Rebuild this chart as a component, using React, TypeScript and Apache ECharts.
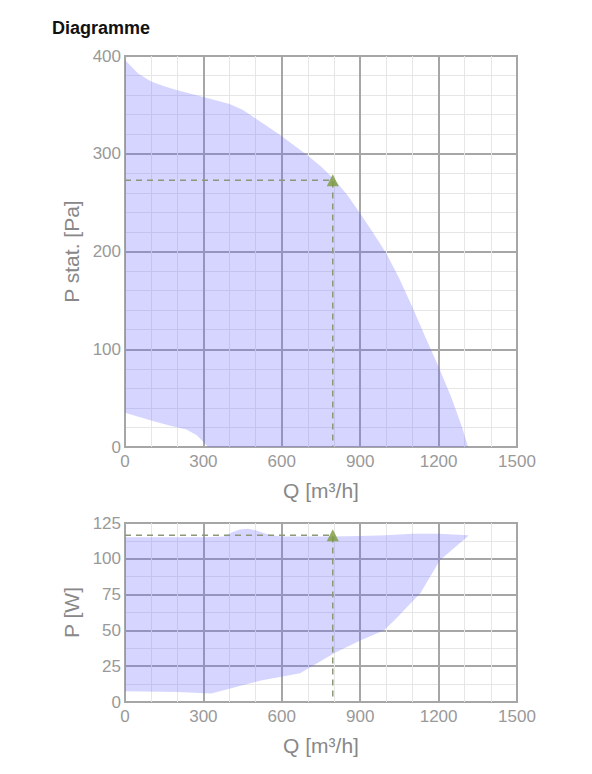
import React, { useEffect, useRef } from "react";
import * as echarts from "echarts";

// Top chart: static pressure envelope
const pUpperQ = [0, 50, 100, 150, 200, 300, 400, 450, 500, 550, 600, 650, 700, 750, 800, 850, 900, 950, 1000, 1050, 1100, 1150, 1200, 1250, 1290, 1313];
const pUpperP = [396, 382, 374, 369, 365, 358, 351, 345, 336, 327, 318, 308, 298, 287, 274, 258, 239, 219, 198, 172, 143, 112, 82, 50, 20, 0];
const pLowerQ = [318, 300, 275, 235, 170, 100, 0];
const pLowerP = [0, 5, 12, 18, 22, 27, 35];

// Bottom chart: power envelope
const wUpperQ = [0, 300, 380, 410, 440, 470, 500, 530, 560, 600, 700, 800, 900, 1000, 1100, 1200, 1313];
const wUpperP = [115, 115, 115.5, 118.5, 120.5, 121, 120, 118, 116.5, 115.5, 115.5, 115.5, 116, 116.5, 117.5, 117.5, 116.5];
const wLowerQ = [1313, 1205, 1130, 1030, 990, 900, 800, 670, 520, 330, 200, 0];
const wLowerP = [116, 99, 76, 57, 50, 43, 34, 20, 15, 6, 7, 7.5];

// Operating point
const opQ = 795;
const opP = 273;
const opW = 116.5;

const xTicks = { min: 0, max: 1500, interval: 300 };

const FONT = "'Liberation Sans', Arial, sans-serif";
const FILL = "rgba(100,100,255,0.27)";
const MAJOR = "#a6a6a6";
const MINOR = "#e6e6e6";
const DASH = "#8c9878";
const MARK = "#7a9a3a";
const LABEL = "#999";
const NAME = "#888";

function envelope(uq: number[], up: number[], lq: number[], lp: number[]) {
  return (params: any, api: any) => {
    const pts = uq.map((q, i) => api.coord([q, up[i]])).concat(lq.map((q, i) => api.coord([q, lp[i]])));
    return { type: "polygon", shape: { points: pts }, style: { fill: FILL } };
  };
}

const fmt = (v: number) => String(v);

export default function App() {
  const ref = useRef<HTMLDivElement>(null);
  useEffect(() => {
    const chart = echarts.init(ref.current!, null, { renderer: "svg" });
    const xAxisBase = (gridIndex: number) => ({
      type: "value",
      gridIndex,
      ...xTicks,
      name: "Q [m³/h]",
      nameLocation: "middle",
      nameGap: 33,
      nameTextStyle: { color: NAME, fontSize: 21, fontFamily: FONT },
      axisLine: { show: false },
      axisTick: { show: false },
      axisLabel: { color: LABEL, fontSize: 17, fontFamily: FONT, margin: 6, formatter: fmt },
      splitLine: { show: true, lineStyle: { color: MAJOR, width: 2 } },
      minorTick: { show: false, splitNumber: 3 },
      minorSplitLine: { show: true, lineStyle: { color: MINOR, width: 1 } },
    });
    const yAxisBase = (gridIndex: number, max: number, interval: number, name: string, minor: number) => ({
      type: "value",
      gridIndex,
      min: 0,
      max,
      interval,
      name,
      nameLocation: "middle",
      nameGap: 40,
      nameTextStyle: { color: NAME, fontSize: 21, fontFamily: FONT },
      axisLine: { show: false },
      axisTick: { show: false },
      axisLabel: { color: LABEL, fontSize: 17, fontFamily: FONT, margin: 4, formatter: fmt },
      splitLine: { show: true, lineStyle: { color: MAJOR, width: 2 } },
      minorTick: { show: false, splitNumber: minor },
      minorSplitLine: { show: true, lineStyle: { color: MINOR, width: 1 } },
    });
    chart.setOption({
      animation: false,
      title: {
        text: "Diagramme",
        left: 47,
        top: 14,
        textStyle: { fontSize: 18, fontWeight: "bold", color: "#111", fontFamily: FONT },
      },
      grid: [
        { left: 125, right: 75, top: 56, height: 391, show: true, borderColor: MAJOR, borderWidth: 2, containLabel: false },
        { left: 125, right: 75, top: 523, height: 179, show: true, borderColor: MAJOR, borderWidth: 2, containLabel: false },
      ],
      xAxis: [xAxisBase(0), xAxisBase(1)],
      yAxis: [
        yAxisBase(0, 400, 100, "P stat. [Pa]", 5),
        yAxisBase(1, 125, 25, "P [W]", 2),
      ],
      series: [
        {
          type: "custom",
          xAxisIndex: 0,
          yAxisIndex: 0,
          data: [[0, 0]],
          renderItem: envelope(pUpperQ, pUpperP, pLowerQ, pLowerP),
          silent: true,
          z: 1,
        },
        {
          type: "custom",
          xAxisIndex: 1,
          yAxisIndex: 1,
          data: [[0, 0]],
          renderItem: envelope(wUpperQ, wUpperP, wLowerQ, wLowerP),
          silent: true,
          z: 1,
        },
        {
          type: "line",
          xAxisIndex: 0,
          yAxisIndex: 0,
          data: [[0, opP], [opQ, opP], [opQ, 0]],
          symbol: "none",
          lineStyle: { color: DASH, width: 1.5, type: [6, 5] },
          z: 2,
        },
        {
          type: "line",
          xAxisIndex: 1,
          yAxisIndex: 1,
          data: [[0, opW], [opQ, opW], [opQ, 0]],
          symbol: "none",
          lineStyle: { color: DASH, width: 1.5, type: [6, 5] },
          z: 2,
        },
        {
          type: "scatter",
          xAxisIndex: 0,
          yAxisIndex: 0,
          data: [[opQ, opP]],
          symbol: "triangle",
          symbolSize: 12,
          itemStyle: { color: MARK },
          z: 3,
        },
        {
          type: "scatter",
          xAxisIndex: 1,
          yAxisIndex: 1,
          data: [[opQ, opW]],
          symbol: "triangle",
          symbolSize: 12,
          itemStyle: { color: MARK },
          z: 3,
        },
      ],
    });
    return () => chart.dispose();
  }, []);
  return (
    <div
      ref={ref}
      style={{ position: "absolute", left: 0, top: 0, width: 592, height: 774, background: "#fff" }}
    />
  );
}
